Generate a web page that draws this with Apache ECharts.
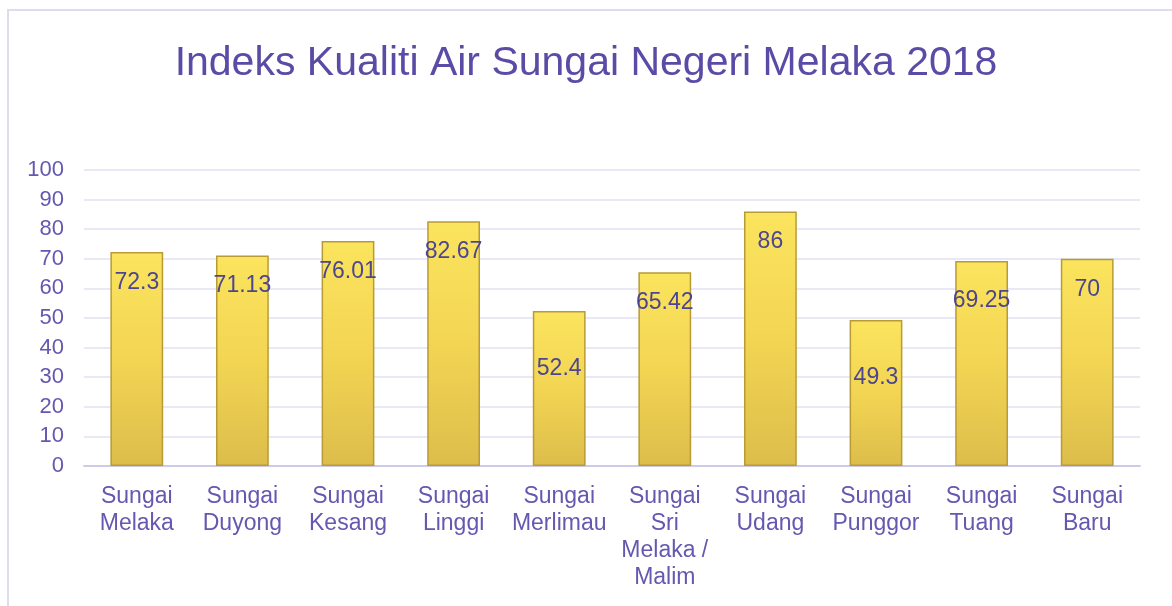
<!DOCTYPE html>
<html>
<head>
<meta charset="utf-8">
<script src="https://cdn.jsdelivr.net/npm/echarts@6/dist/echarts.min.js"></script>
<style>
  html, body { margin: 0; padding: 0; background: #fff; }
  #main { width: 1172px; height: 606px; }
</style>
</head>
<body>
<div id="main"></div>
<script>
var myChart = echarts.init(document.getElementById('main'));

var rivers = ['Sungai\nMelaka', 'Sungai\nDuyong', 'Sungai\nKesang', 'Sungai\nLinggi', 'Sungai\nMerlimau',
  'Sungai\nSri\nMelaka /\nMalim', 'Sungai\nUdang', 'Sungai\nPunggor', 'Sungai\nTuang', 'Sungai\nBaru'];
var ikaValues = [72.3, 71.13, 76.01, 82.67, 52.4, 65.42, 86, 49.3, 69.25, 70];
var yTicks = [0, 10, 20, 30, 40, 50, 60, 70, 80, 90, 100];

// labels that sit lower in the bar in the original
var labelShift = { 4: 27, 7: 27, 8: 9 };

var purple = '#6458b0';

var barData = ikaValues.map(function (v, i) {
  return {
    value: v,
    label: { offset: [0, labelShift[i] || 0] }
  };
});

var option = {
  backgroundColor: '#fff',
  title: {
    text: 'Indeks Kualiti Air Sungai Negeri Melaka 2018',
    left: 'center',
    top: 38,
    textStyle: {
      color: '#5b4ba6',
      fontSize: 41,
      fontWeight: 'normal',
      fontFamily: 'Liberation Sans, Arial, sans-serif'
    }
  },
  graphic: [{
    type: 'rect',
    shape: { x: 8, y: 10, width: 1200, height: 700 },
    style: { fill: 'none', stroke: '#dedcef', lineWidth: 2 },
    silent: true
  }],
  grid: { left: 84, right: 32, top: 170, bottom: 140 },
  xAxis: {
    type: 'category',
    data: rivers,
    axisLine: { lineStyle: { color: '#cfcbe6', width: 2 } },
    axisTick: { show: false },
    axisLabel: {
      color: purple,
      fontSize: 23,
      lineHeight: 27,
      margin: 17,
      interval: 0,
      fontFamily: 'Liberation Sans, Arial, sans-serif'
    }
  },
  yAxis: {
    type: 'value',
    min: 0,
    max: 100,
    interval: 10,
    axisLine: { show: false },
    axisTick: { show: false },
    axisLabel: {
      color: purple,
      fontSize: 22,
      margin: 20,
      fontFamily: 'Liberation Sans, Arial, sans-serif',
      formatter: function (v) { return yTicks.indexOf(v) >= 0 ? v : ''; }
    },
    splitLine: { lineStyle: { color: '#e2e0f2', width: 1.5 } }
  },
  series: [{
    name: 'IKA',
    type: 'bar',
    barWidth: '50%',
    data: barData,
    itemStyle: {
      color: {
        type: 'linear', x: 0, y: 0, x2: 0, y2: 1,
        colorStops: [
          { offset: 0, color: '#fbe45e' },
          { offset: 0.5, color: '#f3d553' },
          { offset: 1, color: '#dcbd4b' }
        ]
      },
      borderColor: '#b89b36',
      borderWidth: 1.5
    },
    label: {
      show: true,
      position: 'insideTop',
      distance: 19,
      color: '#4c4691',
      fontSize: 23,
      fontFamily: 'Liberation Sans, Arial, sans-serif'
    }
  }]
};

myChart.setOption(option);
</script>
</body>
</html>
